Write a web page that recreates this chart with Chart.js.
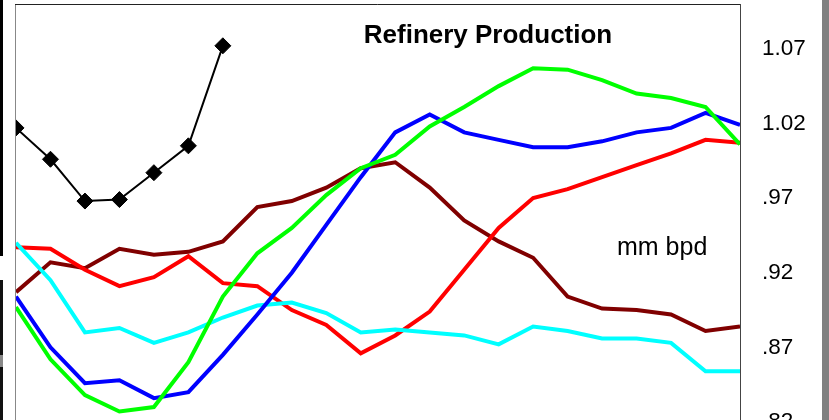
<!DOCTYPE html>
<html>
<head>
<meta charset="utf-8">
<script src="https://cdn.jsdelivr.net/npm/chart.js@4.4.1/dist/chart.umd.min.js"></script>
<style>
  html, body { margin: 0; padding: 0; background: #fff; overflow: hidden; }
  #wrap { position: relative; width: 829px; height: 420px; overflow: hidden; }
  #refChart { position: absolute; left: 0; top: 0; }
  .edge { position: absolute; }
</style>
</head>
<body>
<div id="wrap">
  <canvas id="refChart" width="829" height="440"></canvas>
  <div class="edge" style="left:0;top:0;width:3px;height:256px;background:#000"></div>
  <div class="edge" style="left:0;top:280px;width:3px;height:140px;background:#111"></div>
  <div class="edge" style="left:0;top:355px;width:3px;height:12px;background:#888"></div>
  <div class="edge" style="left:822px;top:0;width:7px;height:420px;background:#808080"></div>
</div>
<script>
// weeks along the x axis
const weeks = ['1', '2', '3', '4', '5', '6', '7', '8', '9', '10', '11',
               '12', '13', '14', '15', '16', '17', '18', '19', '20', '21', '22'];

// right axis ticks (mm bpd)
const yTicks = [0.82, 0.87, 0.92, 0.97, 1.02, 1.07];

const seriesBlack = [1.017, 0.996, 0.968, 0.969, 0.987, 1.005, 1.072,
                     null, null, null, null, null, null, null, null, null, null, null, null, null, null, null];
const seriesGreen = [0.897, 0.862, 0.838, 0.827, 0.830, 0.860, 0.904, 0.933, 0.950, 0.972, 0.990,
                     0.999, 1.018, 1.031, 1.045, 1.057, 1.056, 1.049, 1.040, 1.037, 1.031, 1.006];
const seriesBlue  = [0.904, 0.870, 0.846, 0.848, 0.836, 0.840, 0.865, 0.892, 0.920, 0.952, 0.984,
                     1.014, 1.026, 1.014, 1.009, 1.004, 1.004, 1.008, 1.014, 1.017, 1.027, 1.019];
const seriesCyan  = [0.940, 0.915, 0.880, 0.883, 0.873, 0.880, 0.890, 0.898, 0.900, 0.893, 0.880,
                     0.882, 0.880, 0.878, 0.872, 0.884, 0.881, 0.876, 0.876, 0.873, 0.854, 0.854];
const seriesRed   = [0.937, 0.936, 0.922, 0.911, 0.917, 0.931, 0.913, 0.911, 0.895, 0.885, 0.866,
                     0.878, 0.894, 0.922, 0.950, 0.970, 0.976, 0.984, 0.992, 1.000, 1.009, 1.007];
const seriesMaroon= [0.907, 0.927, 0.923, 0.936, 0.932, 0.934, 0.941, 0.964, 0.968, 0.977, 0.990,
                     0.994, 0.977, 0.955, 0.941, 0.930, 0.904, 0.896, 0.895, 0.892, 0.881, 0.884];

const FONT = "'Liberation Sans', Arial, Helvetica, sans-serif";

const frameAndText = {
  id: 'frameAndText',
  afterDraw(chart) {
    const ctx = chart.ctx;
    const a = chart.chartArea;
    ctx.save();
    ctx.lineWidth = 1;
    ctx.strokeStyle = '#888';
    ctx.beginPath();
    ctx.moveTo(15.5, 4);
    ctx.lineTo(15.5, 440);
    ctx.stroke();
    ctx.strokeStyle = '#222';
    ctx.beginPath();
    ctx.moveTo(15, 4.5);
    ctx.lineTo(a.right + 0.5, 4.5);
    ctx.stroke();
    ctx.strokeStyle = '#444';
    ctx.beginPath();
    ctx.moveTo(a.right + 0.5, 4);
    ctx.lineTo(a.right + 0.5, 440);
    ctx.stroke();

    ctx.fillStyle = '#000';
    ctx.textBaseline = 'alphabetic';
    ctx.font = 'bold 26px ' + FONT;
    ctx.textAlign = 'center';
    ctx.fillText('Refinery Production', 488, 43);
    ctx.font = '25px ' + FONT;
    ctx.textAlign = 'left';
    ctx.fillText('mm bpd', 617, 255);
    ctx.restore();
  }
};

function lineSet(data, color, width) {
  return {
    data: data,
    borderColor: color,
    backgroundColor: color,
    borderWidth: width,
    pointRadius: 0,
    tension: 0,
    clip: 0
  };
}

const blackSet = {
  data: seriesBlack,
  borderColor: '#000',
  backgroundColor: '#000',
  borderWidth: 2,
  pointStyle: 'rectRot',
  pointRadius: 8,
  pointBorderWidth: 1,
  pointBackgroundColor: '#000',
  pointBorderColor: '#000',
  tension: 0,
  spanGaps: false,
  clip: 0
};

new Chart(document.getElementById('refChart'), {
  type: 'line',
  data: {
    labels: weeks,
    datasets: [
      blackSet,
      lineSet(seriesGreen, '#00ff00', 4),
      lineSet(seriesBlue, '#0000ff', 4),
      lineSet(seriesCyan, '#00ffff', 4),
      lineSet(seriesRed, '#ff0000', 4),
      lineSet(seriesMaroon, '#800000', 4)
    ]
  },
  options: {
    responsive: false,
    animation: false,
    events: [],
    layout: { autoPadding: false, padding: { left: 16, top: 4, bottom: 18, right: 0 } },
    plugins: { legend: { display: false }, tooltip: { enabled: false }, title: { display: false } },
    scales: {
      x: { display: false, offset: false },
      y: {
        position: 'right',
        min: 0.82,
        max: 1.1,
        grid: { display: false, drawTicks: false },
        border: { display: false },
        afterBuildTicks: function(scale) {
          scale.ticks = yTicks.map(function(v) { return { value: v }; });
        },
        afterFit: function(scale) {
          scale.width = 89;
          scale.paddingTop = 0;
          scale.paddingBottom = 0;
        },
        ticks: {
          padding: 22,
          color: '#000',
          font: { family: FONT, size: 22.5 },
          callback: function(v) { return v.toFixed(2).replace(/^0/, ''); }
        }
      }
    }
  },
  plugins: [frameAndText]
});
</script>
</body>
</html>
